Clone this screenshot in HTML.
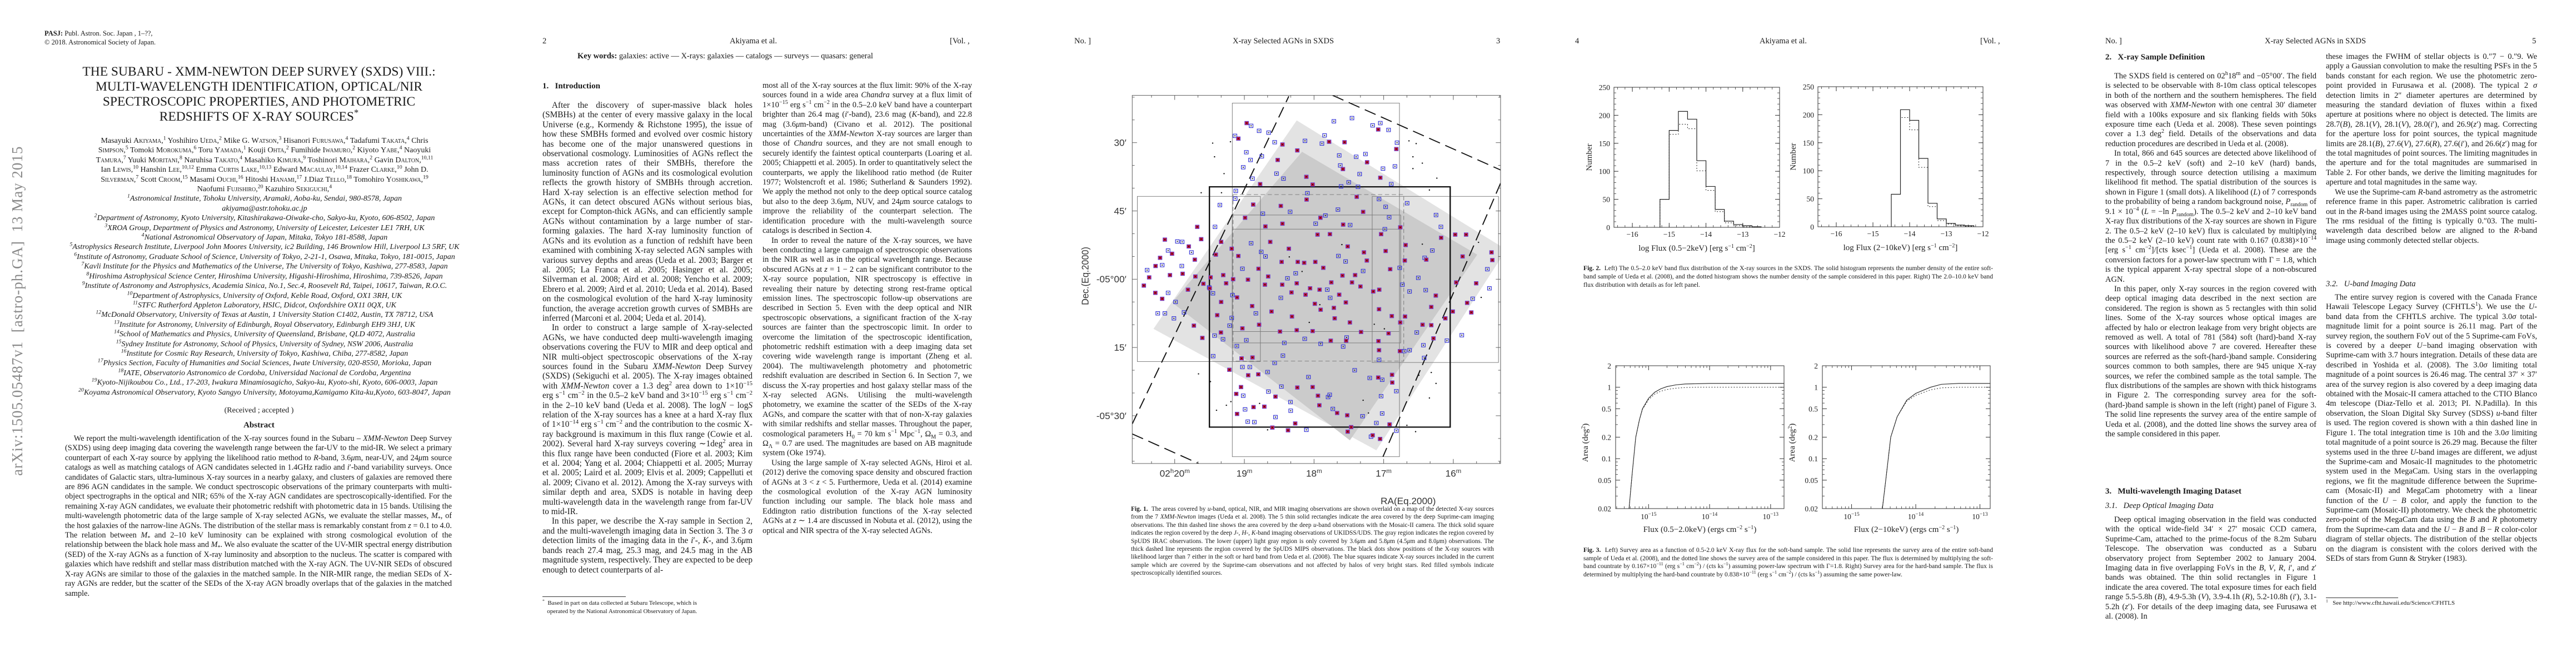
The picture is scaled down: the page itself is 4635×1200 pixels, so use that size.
<!DOCTYPE html>
<html><head><meta charset="utf-8">
<style>
html,body{margin:0;padding:0;background:#fff;}
#page{position:relative;width:4635px;height:1200px;overflow:hidden;background:#fff;color:#1a1a1a;font-family:"Liberation Serif",serif;}
.abs{position:absolute;}
.hdr{position:absolute;top:65px;font-size:14.5px;line-height:18px;white-space:nowrap;}
.col{position:absolute;font-size:14.5px;line-height:17.4px;text-align:justify;hyphens:auto;}
.col p{margin:0;text-indent:1.1em;}
.col p.ni{text-indent:0;}
.sec{font-weight:bold;font-size:15px;}
.sub{font-style:italic;}
.cap{position:absolute;font-size:11.3px;line-height:14.4px;text-align:justify;}
.fn{position:absolute;font-size:11px;line-height:15px;}
.sc{font-variant:small-caps;}
.aff{font-style:italic;}
sup{font-size:70%;line-height:0;}
sub{font-size:70%;line-height:0;}
</style></head>
<body>
<div id="page">

<!-- PAGE 1 -->
<div class="abs" style="left:80px;top:52px;font-size:12.5px;line-height:16px;">
<b>PASJ:</b> Publ. Astron. Soc. Japan , 1–??,<br>© 2018. Astronomical Society of Japan.</div>

<div class="abs" style="left:14px;top:856px;width:612px;height:34px;transform:rotate(-90deg);transform-origin:0 0;font-size:27px;line-height:34px;color:#8a8a8a;white-space:nowrap;letter-spacing:1px;">arXiv:1505.05487v1&nbsp;&nbsp;[astro-ph.GA]&nbsp;&nbsp;13 May 2015</div>

<div class="abs" style="left:60px;top:116px;width:812px;text-align:center;font-size:23.5px;line-height:27px;white-space:nowrap;">
THE SUBARU - XMM-NEWTON DEEP SURVEY (SXDS) VIII.:<br>MULTI-WAVELENGTH IDENTIFICATION, OPTICAL/NIR<br>SPECTROSCOPIC PROPERTIES, AND PHOTOMETRIC<br>REDSHIFTS OF X-RAY SOURCES<sup>*</sup></div>

<div class="abs" style="left:60px;top:245px;width:832px;text-align:center;font-size:14px;line-height:17.4px;white-space:nowrap;">
Masayuki <span class="sc">Akiyama</span>,<sup>1</sup> Yoshihiro <span class="sc">Ueda</span>,<sup>2</sup> Mike G. <span class="sc">Watson</span>,<sup>3</sup> Hisanori <span class="sc">Furusawa</span>,<sup>4</sup> Tadafumi <span class="sc">Takata</span>,<sup>4</sup> Chris<br>
<span class="sc">Simpson</span>,<sup>5</sup> Tomoki <span class="sc">Morokuma</span>,<sup>6</sup> Toru <span class="sc">Yamada</span>,<sup>1</sup> Kouji <span class="sc">Ohta</span>,<sup>2</sup> Fumihide <span class="sc">Iwamuro</span>,<sup>2</sup> Kiyoto <span class="sc">Yabe</span>,<sup>4</sup> Naoyuki<br>
<span class="sc">Tamura</span>,<sup>7</sup> Yuuki <span class="sc">Moritani</span>,<sup>8</sup> Naruhisa <span class="sc">Takato</span>,<sup>4</sup> Masahiko <span class="sc">Kimura</span>,<sup>9</sup> Toshinori <span class="sc">Maihara</span>,<sup>2</sup> Gavin <span class="sc">Dalton</span>,<sup>10,11</sup><br>
Ian <span class="sc">Lewis</span>,<sup>10</sup> Hanshin <span class="sc">Lee</span>,<sup>10,12</sup> Emma <span class="sc">Curtis Lake</span>,<sup>10,13</sup> Edward <span class="sc">Macaulay</span>,<sup>10,14</sup> Frazer <span class="sc">Clarke</span>,<sup>10</sup> John D.<br>
<span class="sc">Silverman</span>,<sup>7</sup> Scott <span class="sc">Croom</span>,<sup>15</sup> Masami <span class="sc">Ouchi</span>,<sup>16</sup> Hitoshi <span class="sc">Hanami</span>,<sup>17</sup> J.Diaz <span class="sc">Tello</span>,<sup>18</sup> Tomohiro <span class="sc">Yoshikawa</span>,<sup>19</sup><br>
Naofumi <span class="sc">Fujishiro</span>,<sup>20</sup> Kazuhiro <span class="sc">Sekiguchi</span>,<sup>4</sup><br>
<span class="aff"><sup>1</sup>Astronomical Institute, Tohoku University, Aramaki, Aoba-ku, Sendai, 980-8578, Japan</span><br>
<span class="aff">akiyama@astr.tohoku.ac.jp</span><br>
<span class="aff"><sup>2</sup>Department of Astronomy, Kyoto University, Kitashirakawa-Oiwake-cho, Sakyo-ku, Kyoto, 606-8502, Japan</span><br>
<span class="aff"><sup>3</sup>XROA Group, Department of Physics and Astronomy, University of Leicester, Leicester LE1 7RH, UK</span><br>
<span class="aff"><sup>4</sup>National Astronomical Observatory of Japan, Mitaka, Tokyo 181-8588, Japan</span><br>
<span class="aff"><sup>5</sup>Astrophysics Research Institute, Liverpool John Moores University, ic2 Building, 146 Brownlow Hill, Liverpool L3 5RF, UK</span><br>
<span class="aff"><sup>6</sup>Institute of Astronomy, Graduate School of Science, University of Tokyo, 2-21-1, Osawa, Mitaka, Tokyo, 181-0015, Japan</span><br>
<span class="aff"><sup>7</sup>Kavli Institute for the Physics and Mathematics of the Universe, The University of Tokyo, Kashiwa, 277-8583, Japan</span><br>
<span class="aff"><sup>8</sup>Hiroshima Astrophysical Science Center, Hiroshima University, Higashi-Hiroshima, Hiroshima, 739-8526, Japan</span><br>
<span class="aff"><sup>9</sup>Institute of Astronomy and Astrophysics, Academia Sinica, No.1, Sec.4, Roosevelt Rd, Taipei, 10617, Taiwan, R.O.C.</span><br>
<span class="aff"><sup>10</sup>Department of Astrophysics, University of Oxford, Keble Road, Oxford, OX1 3RH, UK</span><br>
<span class="aff"><sup>11</sup>STFC Rutherford Appleton Laboratory, HSIC, Didcot, Oxfordshire OX11 0QX, UK</span><br>
<span class="aff"><sup>12</sup>McDonald Observatory, University of Texas at Austin, 1 University Station C1402, Austin, TX 78712, USA</span><br>
<span class="aff"><sup>13</sup>Institute for Astronomy, University of Edinburgh, Royal Observatory, Edinburgh EH9 3HJ, UK</span><br>
<span class="aff"><sup>14</sup>School of Mathematics and Physics, University of Queensland, Brisbane, QLD 4072, Australia</span><br>
<span class="aff"><sup>15</sup>Sydney Institute for Astronomy, School of Physics, University of Sydney, NSW 2006, Australia</span><br>
<span class="aff"><sup>16</sup>Institute for Cosmic Ray Research, University of Tokyo, Kashiwa, Chiba, 277-8582, Japan</span><br>
<span class="aff"><sup>17</sup>Physics Section, Faculty of Humanities and Social Sciences, Iwate University, 020-8550, Morioka, Japan</span><br>
<span class="aff"><sup>18</sup>IATE, Observatorio Astronomico de Cordoba, Universidad Nacional de Cordoba, Argentina</span><br>
<span class="aff"><sup>19</sup>Kyoto-Nijikoubou Co., Ltd., 17-203, Iwakura Minamiosagicho, Sakyo-ku, Kyoto-shi, Kyoto, 606-0003, Japan</span><br>
<span class="aff"><sup>20</sup>Koyama Astronomical Observatory, Kyoto Sangyo University, Motoyama,Kamigamo Kita-ku,Kyoto, 603-8047, Japan</span>
</div>

<div class="abs" style="left:60px;top:730px;width:812px;text-align:center;font-size:14px;line-height:18px;">(Received ; accepted )</div>
<div class="abs" style="left:60px;top:756px;width:812px;text-align:center;font-size:15px;line-height:18px;font-weight:bold;">Abstract</div>
<div class="col" style="left:117px;top:781px;width:696px;font-size:14.3px;">
<p>We report the multi-wavelength identification of the X-ray sources found in the Subaru – <i>XMM-Newton</i> Deep Survey (SXDS) using deep imaging data covering the wavelength range between the far-UV to the mid-IR. We select a primary counterpart of each X-ray source by applying the likelihood ratio method to <i>R</i>-band, 3.6<i>μ</i>m, near-UV, and 24<i>μ</i>m source catalogs as well as matching catalogs of AGN candidates selected in 1.4GHz radio and <i>i</i>′-band variability surveys. Once candidates of Galactic stars, ultra-luminous X-ray sources in a nearby galaxy, and clusters of galaxies are removed there are 896 AGN candidates in the sample. We conduct spectroscopic observations of the primary counterparts with multi-object spectrographs in the optical and NIR; 65% of the X-ray AGN candidates are spectroscopically-identified. For the remaining X-ray AGN candidates, we evaluate their photometric redshift with photometric data in 15 bands. Utilising the multi-wavelength photometric data of the large sample of X-ray selected AGNs, we evaluate the stellar masses, <i>M</i><sub>*</sub>, of the host galaxies of the narrow-line AGNs. The distribution of the stellar mass is remarkably constant from <i>z</i> = 0.1 to 4.0. The relation between <i>M</i><sub>*</sub> and 2–10 keV luminosity can be explained with strong cosmological evolution of the relationship between the black hole mass and <i>M</i><sub>*</sub>. We also evaluate the scatter of the UV-MIR spectral energy distribution (SED) of the X-ray AGNs as a function of X-ray luminosity and absorption to the nucleus. The scatter is compared with galaxies which have redshift and stellar mass distribution matched with the X-ray AGN. The UV-NIR SEDs of obscured X-ray AGNs are similar to those of the galaxies in the matched sample. In the NIR-MIR range, the median SEDs of X-ray AGNs are redder, but the scatter of the SEDs of the X-ray AGN broadly overlaps that of the galaxies in the matched sample.</p></div>

<!-- PAGE 2 -->
<div class="hdr" style="left:976px;">2</div>
<div class="hdr" style="left:1313px;">Akiyama et al.</div>
<div class="hdr" style="left:1709px;">[Vol. ,</div>
<div class="abs" style="left:1039px;top:92px;font-size:14.5px;line-height:18px;white-space:nowrap;"><b>Key words:</b> galaxies: active — X-rays: galaxies — catalogs — surveys — quasars: general</div>
<div class="abs sec" style="left:976px;top:146px;line-height:18px;">1.&nbsp;&nbsp;&nbsp;Introduction</div>
<div class="col" style="left:976px;top:181px;width:378px;font-size:15.3px;">
<p>After the discovery of super-massive black holes (SMBHs) at the center of every massive galaxy in the local Universe (e.g., Kormendy &amp; Richstone 1995), the issue of how these SMBHs formed and evolved over cosmic history has become one of the major unanswered questions in observational cosmology. Luminosities of AGNs reflect the mass accretion rates of their SMBHs, therefore the luminosity function of AGNs and its cosmological evolution reflects the growth history of SMBHs through accretion. Hard X-ray selection is an effective selection method for AGNs, it can detect obscured AGNs without serious bias, except for Compton-thick AGNs, and can efficiently sample AGNs without contamination by a large number of star-forming galaxies. The hard X-ray luminosity function of AGNs and its evolution as a function of redshift have been examined with combining X-ray selected AGN samples with various survey depths and areas (Ueda et al. 2003; Barger et al. 2005; La Franca et al. 2005; Hasinger et al. 2005; Silverman et al. 2008; Aird et al. 2008; Yencho et al. 2009; Ebrero et al. 2009; Aird et al. 2010; Ueda et al. 2014). Based on the cosmological evolution of the hard X-ray luminosity function, the average accretion growth curves of SMBHs are inferred (Marconi et al. 2004; Ueda et al. 2014).</p>
<p>In order to construct a large sample of X-ray-selected AGNs, we have conducted deep multi-wavelength imaging observations covering the FUV to MIR and deep optical and NIR multi-object spectroscopic observations of the X-ray sources found in the Subaru <i>XMM-Newton</i> Deep Survey (SXDS) (Sekiguchi et al. 2005). The X-ray images obtained with <i>XMM-Newton</i> cover a 1.3 deg<sup>2</sup> area down to 1×10<sup>−15</sup> erg s<sup>−1</sup> cm<sup>−2</sup> in the 0.5–2 keV band and 3×10<sup>−15</sup> erg s<sup>−1</sup> cm<sup>−2</sup> in the 2–10 keV band (Ueda et al. 2008). The log<i>N</i> − log<i>S</i> relation of the X-ray sources has a knee at a hard X-ray flux of 1×10<sup>−14</sup> erg s<sup>−1</sup> cm<sup>−2</sup> and the contribution to the cosmic X-ray background is maximum in this flux range (Cowie et al. 2002). Several hard X-ray surveys covering ∼1deg<sup>2</sup> area in this flux range have been conducted (Fiore et al. 2003; Kim et al. 2004; Yang et al. 2004; Chiappetti et al. 2005; Murray et al. 2005; Laird et al. 2009; Elvis et al. 2009; Cappelluti et al. 2009; Civano et al. 2012). Among the X-ray surveys with similar depth and area, SXDS is notable in having deep multi-wavelength data in the wavelength range from far-UV to mid-IR.</p>
<p>In this paper, we describe the X-ray sample in Section 2, and the multi-wavelength imaging data in Section 3. The 3 <i>σ</i> detection limits of the imaging data in the <i>i</i>′-, <i>K</i>-, and 3.6<i>μ</i>m bands reach 27.4 mag, 25.3 mag, and 24.5 mag in the AB magnitude system, respectively. They are expected to be deep enough to detect counterparts of al-</p></div>
<div class="abs" style="left:976px;top:1073px;width:150px;border-top:1px solid #333;"></div>
<div class="fn" style="left:976px;top:1078px;width:378px;"><sup>*</sup>&nbsp; Based in part on data collected at Subaru Telescope, which is<br>&nbsp;&nbsp;&nbsp;operated by the National Astronomical Observatory of Japan.</div>
<div class="col" style="left:1372px;top:146px;width:377px;">
<p class="ni">most all of the X-ray sources at the flux limit: 90% of the X-ray sources found in a wide area <i>Chandra</i> survey at a flux limit of 1×10<sup>−15</sup> erg s<sup>−1</sup> cm<sup>−2</sup> in the 0.5–2.0 keV band have a counterpart brighter than 26.4 mag (<i>i</i>′-band), 23.6 mag (<i>K</i>-band), and 22.8 mag (3.6<i>μ</i>m-band) (Civano et al. 2012). The positional uncertainties of the <i>XMM-Newton</i> X-ray sources are larger than those of <i>Chandra</i> sources, and they are not small enough to securely identify the faintest optical counterparts (Loaring et al. 2005; Chiappetti et al. 2005). In order to quantitatively select the counterparts, we apply the likelihood ratio method (de Ruiter 1977; Wolstencroft et al. 1986; Sutherland &amp; Saunders 1992). We apply the method not only to the deep optical source catalog but also to the deep 3.6<i>μ</i>m, NUV, and 24<i>μ</i>m source catalogs to improve the reliability of the counterpart selection. The identification procedure with the multi-wavelength source catalogs is described in Section 4.</p>
<p>In order to reveal the nature of the X-ray sources, we have been conducting a large campaign of spectroscopic observations in the NIR as well as in the optical wavelength range. Because obscured AGNs at <i>z</i> = 1 − 2 can be significant contributor to the X-ray source population, NIR spectroscopy is effective in revealing their nature by detecting strong rest-frame optical emission lines. The spectroscopic follow-up observations are described in Section 5. Even with the deep optical and NIR spectroscopic observations, a significant fraction of the X-ray sources are fainter than the spectroscopic limit. In order to overcome the limitation of the spectroscopic identification, photometric redshift estimation with a deep imaging data set covering wide wavelength range is important (Zheng et al. 2004). The multiwavelength photometry and photometric redshift evaluation are described in Section 6. In Section 7, we discuss the X-ray properties and host galaxy stellar mass of the X-ray selected AGNs. Utilising the multi-wavelength photometry, we examine the scatter of the SEDs of the X-ray AGNs, and compare the scatter with that of non-X-ray galaxies with similar redshifts and stellar masses. Throughout the paper, cosmological parameters H<sub>0</sub> = 70 km s<sup>−1</sup> Mpc<sup>−1</sup>, Ω<sub>M</sub> = 0.3, and Ω<sub>Λ</sub> = 0.7 are used. The magnitudes are based on AB magnitude system (Oke 1974).</p>
<p>Using the large sample of X-ray selected AGNs, Hiroi et al. (2012) derive the comoving space density and obscured fraction of AGNs at 3 &lt; <i>z</i> &lt; 5. Furthermore, Ueda et al. (2014) examine the cosmological evolution of the X-ray AGN luminosity function including our sample. The black hole mass and Eddington ratio distribution functions of the X-ray selected AGNs at <i>z</i> ∼ 1.4 are discussed in Nobuta et al. (2012), using the optical and NIR spectra of the X-ray selected AGNs.</p></div>

<!-- PAGE 3 -->
<div class="hdr" style="left:1933px;">No. ]</div>
<div class="hdr" style="left:2218px;">X-ray Selected AGNs in SXDS</div>
<div class="hdr" style="left:2692px;">3</div>
<div class="cap" style="left:2035px;top:909px;width:653px;">
<b>Fig. 1.</b>&nbsp; The areas covered by <i>u</i>-band, optical, NIR, and MIR imaging observations are shown overlaid on a map of the detected X-ray sources from the 7 <i>XMM-Newton</i> images (Ueda et al. 2008). The 5 thin solid rectangles indicate the area covered by the deep Suprime-cam imaging observations. The thin dashed line shows the area covered by the deep <i>u</i>-band observations with the Mosaic-II camera. The thick solid square indicates the region covered by the deep <i>J</i>-, <i>H</i>-, <i>K</i>-band imaging observations of UKIDSS/UDS. The gray region indicates the region covered by SpUDS IRAC observations. The lower (upper) light gray region is only covered by 3.6<i>μ</i>m and 5.8<i>μ</i>m (4.5<i>μ</i>m and 8.0<i>μ</i>m) observations. The thick dashed line represents the region covered by the SpUDS MIPS observations. The black dots show positions of the X-ray sources with likelihood larger than 7 either in the soft or hard band from Ueda et al. (2008). The blue squares indicate X-ray sources included in the current sample which are covered by the Suprime-cam observations and not affected by halos of very bright stars. Red filled symbols indicate spectroscopically identified sources.</div>

<!-- PAGE 4 -->
<div class="hdr" style="left:2834px;">4</div>
<div class="hdr" style="left:3166px;">Akiyama et al.</div>
<div class="hdr" style="left:3563px;">[Vol. ,</div>
<div class="cap" style="left:2849px;top:476px;width:737px;font-size:11.6px;line-height:14.8px;">
<b>Fig. 2.</b>&nbsp; Left) The 0.5–2.0 keV band flux distribution of the X-ray sources in the SXDS. The solid histogram represents the number density of the entire soft-band sample of Ueda et al. (2008), and the dotted histogram shows the number density of the sample considered in this paper. Right) The 2.0–10.0 keV band flux distribution with details as for left panel.</div>
<div class="cap" style="left:2849px;top:983px;width:737px;font-size:11.6px;line-height:14.6px;">
<b>Fig. 3.</b>&nbsp; Left) Survey area as a function of 0.5-2.0 keV X-ray flux for the soft-band sample. The solid line represents the survey area of the entire soft-band sample of Ueda et al. (2008), and the dotted line shows the survey area of the sample considered in this paper. The flux is determined by multiplying the soft-band countrate by 0.167×10<sup>−11</sup> (erg s<sup>−1</sup> cm<sup>−2</sup>) / (cts ks<sup>−1</sup>) assuming power-law spectrum with Γ=1.8. Right) Survey area for the hard-band sample. The flux is determined by multiplying the hard-band countrate by 0.838×10<sup>−11</sup> (erg s<sup>−1</sup> cm<sup>−2</sup>) / (cts ks<sup>−1</sup>) assuming the same power-law.</div>

<!-- PAGE 5 -->
<div class="hdr" style="left:3788px;">No. ]</div>
<div class="hdr" style="left:4075px;">X-ray Selected AGNs in SXDS</div>
<div class="hdr" style="left:4556px;">5</div>
<div class="abs sec" style="left:3788px;top:94px;line-height:18px;">2.&nbsp;&nbsp;&nbsp;X-ray Sample Definition</div>
<div class="col" style="left:3788px;top:129px;width:380px;">
<p>The SXDS field is centered on 02<sup>h</sup>18<sup>m</sup> and −05°00′. The field is selected to be observable with 8-10m class optical telescopes in both of the northern and the southern hemispheres. The field was observed with <i>XMM-Newton</i> with one central 30′ diameter field with a 100ks exposure and six flanking fields with 50ks exposure time each (Ueda et al. 2008). These seven pointings cover a 1.3 deg<sup>2</sup> field. Details of the observations and data reduction procedures are described in Ueda et al. (2008).</p>
<p>In total, 866 and 645 sources are detected above likelihood of 7 in the 0.5–2 keV (soft) and 2–10 keV (hard) bands, respectively, through source detection utilising a maximum likelihood fit method. The spatial distribution of the sources is shown in Figure 1 (small dots). A likelihood (<i>L</i>) of 7 corresponds to the probability of being a random background noise, <i>P</i><sub>random</sub> of 9.1 × 10<sup>−4</sup> (<i>L</i> = −ln <i>P</i><sub>random</sub>). The 0.5–2 keV and 2–10 keV band X-ray flux distributions of the X-ray sources are shown in Figure 2. The 0.5–2 keV (2–10 keV) flux is calculated by multiplying the 0.5–2 keV (2–10 keV) count rate with 0.167 (0.838)×10<sup>−14</sup> [erg s<sup>−1</sup> cm<sup>−2</sup>]/[cts ksec<sup>−1</sup>] (Ueda et al. 2008). These are the conversion factors for a power-law spectrum with Γ = 1.8, which is the typical apparent X-ray spectral slope of a non-obscured AGN.</p>
<p>In this paper, only X-ray sources in the region covered with deep optical imaging data described in the next section are considered. The region is shown as 5 rectangles with thin solid lines. Some of the X-ray sources whose optical images are affected by halo or electron leakage from very bright objects are removed as well. A total of 781 (584) soft (hard)-band X-ray sources with likelihood above 7 are covered. Hereafter these sources are referred as the soft-(hard-)band sample. Considering sources common to both samples, there are 945 unique X-ray sources, we refer the combined sample as the total sample. The flux distributions of the samples are shown with thick histograms in Figure 2. The corresponding survey area for the soft-(hard-)band sample is shown in the left (right) panel of Figure 3. The solid line represents the survey area of the entire sample of Ueda et al. (2008), and the dotted line shows the survey area of the sample considered in this paper.</p></div>
<div class="abs sec" style="left:3788px;top:875px;line-height:18px;">3.&nbsp;&nbsp;&nbsp;Multi-wavelength Imaging Dataset</div>
<div class="abs sub" style="left:3788px;top:901px;font-size:14.5px;line-height:18px;">3.1.&nbsp;&nbsp;&nbsp;Deep Optical Imaging Data</div>
<div class="col" style="left:3788px;top:927px;width:380px;">
<p>Deep optical imaging observation in the field was conducted with the optical wide-field 34′ × 27′ mosaic CCD camera, Suprime-Cam, attached to the prime-focus of the 8.2m Subaru Telescope. The observation was conducted as a Subaru observatory project from September 2002 to January 2004. Imaging data in five overlapping FoVs in the <i>B</i>, <i>V</i>, <i>R</i>, <i>i</i>′, and <i>z</i>′ bands was obtained. The thin solid rectangles in Figure 1 indicate the area covered. The total exposure times for each field range 5.5-5.8h (<i>B</i>), 4.9-5.3h (<i>V</i>), 3.9-4.1h (<i>R</i>), 5.2-10.8h (<i>i</i>′), 3.1-5.2h (<i>z</i>′). For details of the deep imaging data, see Furusawa et al. (2008). In</p></div>
<div class="col" style="left:4185px;top:94px;width:380px;">
<p class="ni">these images the FWHM of stellar objects is 0.″7 − 0.″9. We apply a Gaussian convolution to make the resulting PSFs in the 5 bands constant for each region. We use the photometric zero-point provided in Furusawa et al. (2008). The typical 2 <i>σ</i> detection limits in 2″ diameter apertures are determined by measuring the standard deviation of fluxes within a fixed aperture at positions where no object is detected. The limits are 28.7(<i>B</i>), 28.1(<i>V</i>), 28.1(<i>V</i>), 28.0(<i>i</i>′), and 26.9(<i>z</i>′) mag. Correcting for the aperture loss for point sources, the typical magnitude limits are 28.1(<i>B</i>), 27.6(<i>V</i>), 27.6(<i>R</i>), 27.6(<i>i</i>′), and 26.6(<i>z</i>′) mag for the total magnitudes of point sources. The limiting magnitudes in the aperture and for the total magnitudes are summarised in Table 2. For other bands, we derive the limiting magnitudes for aperture and total magnitudes in the same way.</p>
<p>We use the Suprime-cam <i>R</i>-band astrometry as the astrometric reference frame in this paper. Astrometric calibration is carried out in the <i>R</i>-band images using the 2MASS point source catalog. The rms residual of the fitting is typically 0.″03. The multi-wavelength data described below are aligned to the <i>R</i>-band image using commonly detected stellar objects.</p></div>
<div class="abs sub" style="left:4185px;top:502px;font-size:14.5px;line-height:18px;">3.2.&nbsp;&nbsp;&nbsp;U-band Imaging Data</div>
<div class="col" style="left:4185px;top:527px;width:380px;">
<p>The entire survey region is covered with the Canada France Hawaii Telescope Legacy Survey (CFHTLS<sup>1</sup>). We use the <i>U</i>-band data from the CFHTLS archive. The typical 3.0<i>σ</i> total-magnitude limit for a point source is 26.11 mag. Part of the survey region, the southern FoV out of the 5 Suprime-cam FoVs, is covered by a deeper <i>U</i>−band imaging observation with Suprime-cam with 3.7 hours integration. Details of these data are described in Yoshida et al. (2008). The 3.0<i>σ</i> limiting total magnitude of a point sources is 26.46 mag. The central 37′ × 37′ area of the survey region is also covered by a deep imaging data obtained with the Mosaic-II camera attached to the CTIO Blanco 4m telescope (Diaz-Tello et al. 2013; PI. N.Padilla). In this observation, the Sloan Digital Sky Survey (SDSS) <i>u</i>-band filter is used. The region covered is shown with a thin dashed line in Figure 1. The total integration time is 10h and the 3.0<i>σ</i> limiting total magnitude of a point source is 26.29 mag. Because the filter systems used in the three <i>U</i>-band images are different, we adjust the Suprime-cam and Mosaic-II magnitudes to the photometric system used in the MegaCam. Using stars in the overlapping regions, we fit the magnitude difference between the Suprime-cam (Mosaic-II) and MegaCam photometry with a linear function of the <i>U</i> − <i>B</i> color, and apply the function to the Suprime-cam (Mosaic-II) photometry. We check the photometric zero-point of the MegaCam data using the <i>B</i> and <i>R</i> photometry from the Suprime-cam data and the <i>U</i> − <i>B</i> and <i>B</i> − <i>R</i> color-color diagram of stellar objects. The distribution of the stellar objects on the diagram is consistent with the colors derived with the SEDs of stars from Gunn &amp; Stryker (1983).</p></div>
<div class="abs" style="left:4185px;top:1075px;width:130px;border-top:1px solid #333;"></div>
<div class="fn" style="left:4185px;top:1078px;"><sup>1</sup>&nbsp;&nbsp; See http://www.cfht.hawaii.edu/Science/CFHTLS</div>

<svg id="figs" class="abs" style="left:0;top:0;" width="4635" height="1200" xmlns="http://www.w3.org/2000/svg"></svg>
</div>

<script>
// ===== Figure 2 data (histograms, bin width 0.25 in log flux) =====
const softBinStart = -15.25;
const softSolid  = [50,173,207,193,119,73,32,11,5,3,1];
const softDotted = [50,166,184,176,101,66,28,8,3,1,0];
const hardBinStart = -14.5;
const hardSolid  = [58,209,190,122,42,14,6,3,2];
const hardDotted = [58,195,173,106,36,11,5,2,1];
const histYTicks = [0,50,100,150,200,250];
const histXTicks = [-16,-15,-14,-13,-12];

// ===== Figure 3 data (survey area curves) =====
const softLogFlux   = [-15.32,-15.27,-15.21,-15.15,-15.1,-15.0,-14.9,-14.8,-14.7,-14.55,-14.4,-14.2,-14.0,-13.5,-12.78];
const softAreaSolid = [0.02,0.06,0.2,0.35,0.5,0.7,0.85,0.95,1.02,1.08,1.11,1.12,1.13,1.13,1.13];
const softAreaDot   = [0.02,0.06,0.2,0.35,0.49,0.67,0.8,0.88,0.93,0.97,0.99,1.0,1.0,1.0,1.0];
const hardLogFlux   = [-14.52,-14.46,-14.39,-14.29,-14.14,-14.0,-13.77,-13.6,-13.33,-12.84];
const hardAreaSolid = [0.02,0.057,0.2,0.386,0.66,0.82,1.0,1.1,1.13,1.13];
const hardAreaDot   = [0.02,0.057,0.2,0.386,0.64,0.77,0.92,0.98,1.0,1.0];
const areaYTicks = [0.02,0.05,0.1,0.2,0.5,1,2];
const areaYLabels = ["0.02","0.05","0.1","0.2","0.5","1","2"];
const areaXTicks = [-15,-14,-13];

// ===== Figure 1 data: [RA seconds east of 02h16m, Dec arcmin south of -05°00'] =====
const raTicksSec = [0,60,120,180,240];
const raTickLabels = ["16","17","18","19","20"];
const decTicksArcmin = [-30,-15,0,15,30];
const decTickLabels = ["30′","45′","-05°00′","15′","-05°30′"];
const specRA = [178,185.2,147.2,134.4,107,93.7,64.7,49.1,74.3,62.9,95.1,126.6,151.3,166.4,121.2,83.2,126.4,148.6,172.4,179.4,161.9,147.2,114.5,94.9,77.7,62.2,45.7,220.6,248.5,227.9,217.2,242.3,256.5,252.6,262,266.6,256.7,250.8,244.1,233.2,228.6,222.7,222.2,215.3,204.6,200,190.9,185.2,167.8,157.7,141.7,134,117,106.3,91,77,74.5,58.3,54.4,41.8,41.1,23.3,10.5,-1.6,-11,-8,-19.7,-32.9,-33.6,-2.5,-11.9,-15.5,0.5,6.9,15.1,19,19,26.5,17.1,41.6,45.7,63.8,64,53,64.5,55.8,64,46,52.8,52.6,64.7,54.9,63.1,69.5,88,91,91.4,100.1,115.4,116.6,121.2,134.4,136.2,142.4,153.2,155.9,162.8,172.1,186.3,187,182.9,176.7,168,182.4,173,192.9,181.7,167.3,173.3,186.3,200,203.4,223.5,216.2,200.2,149.3,134.9,121.2,105.6,92.3,79.5,89.1,102.2,92.6,102.9,114.3,119.3,127.3,139.4,139,156.6,159.5,147.4,134.9,123.4,115.2,105.1,95.5,84.6,80,69,87.3,98.3,112,128.5,118.9,147.9,162.3,176.9,189.7,198.2,209.1,209.8,195.7];
const specDec = [-34.3,-30.9,-29.6,-28.3,-30.2,-30.1,-32.9,-28.6,-25.7,-22.3,-24.2,-22.5,-26.2,-20.9,-20.8,-18.1,-17.5,-16.1,-16.4,-13.5,-11.6,-12.2,-13.5,-12,-14.8,-9.9,-11.4,-11.5,-8.7,-7.2,-8.8,-5.6,-2.9,-4.7,-0.4,1.4,3,4.3,-0.9,-1.2,2.3,-4.3,-0.6,1,-5.4,-8.2,-6.7,-5.1,-2.3,-8.2,-6.7,-3.8,-9.8,-9.9,-7.2,-5.9,-4.1,-6.2,-2.2,-4.1,-7.5,-4.3,-9.1,-9.8,-9.8,-5,0.9,-5.9,-4.2,0.7,5.2,7.3,7.1,8.6,3.6,6.1,10.1,10,13,8.2,9.5,2.3,6.6,8.1,13.6,11.9,15.6,15.8,21,22.7,21.6,31.9,35.1,34.3,32.5,33.5,29.9,29.4,27.7,25.6,23.7,23.8,31.7,33.2,25.8,32.6,28,28.1,29.6,25.2,23.7,21.1,20.9,17.4,17.2,19.9,10.8,10,5.9,4,5,7.9,10.2,12.9,11.7,11.5,11.2,11.4,13.5,13.5,11.6,9.5,8.6,5.1,6.3,6.7,5.4,3.4,2.9,8.2,7.1,-0.6,1.2,0.9,2,2.3,0.7,-0.8,-0.9,1.6,2.7,0.7,3.4,-2.5,-3.6,-3.8,-3.8,1.2,0.1,0,-0.9,-0.4,2,0.9];
const sampRA = [102.9,87.3,174.2,167.3,159.1,188.1,153.9,127.8,110.9,62.9,69.5,55.8,48.5,75.7,83.7,98.3,113.2,178.3,174.7,165,181,152.3,173,146.3,97.4,80.7,60.6,50.3,53.5,90.1,96.7,82.1,125.7,187.4,201.1,187.9,164.1,140.6,110.2,99.4,64,58.3,55.3,59,39.8,88.9,118.6,205.3,237.7,233.6,245.7,225.6,263.8,250.8,233.9,245.7,239.3,254.6,248.5,232,240.7,210.3,207.1,206.9,205.7,198.4,190.2,181.7,174.2,165.5,161.8,148.6,142.9,135.8,108.6,106.1,99,92.8,77.7,46.2,43.9,37.7,30.2,23.8,24.7,18.1,10.7,14.9,-29.3,-31.1,-16.7,-7.3,5.5,25.8,25.1,31.5,37.7,42.3,64,72,61.3,49.1,62.2,61.3,66.3,49.1,70.9,78.2,85,94.9,91.9,114.3,128,145.6,146.8,153.9,160,159.3,148.1,124.8,106.5,103.8,107.9,140.3,140.1,153.2,179.4,181,177.1,171.4,126.6,181.7,175.3,178.3,170.1,190.9,192.7,186.5];
const sampDec = [-34.7,-35.4,-33.7,-32.6,-32.2,-31.5,-30.1,-30.4,-31.6,-34.3,-33.8,-32.8,-30,-27.5,-26.9,-27.2,-29.8,-27.9,-26.2,-27,-24.6,-23.2,-22.1,-22.1,-25,-23.1,-24.3,-24.8,-20.9,-21.3,-20.4,-20.3,-18.9,-19.4,-16.3,-17.7,-14.4,-14.8,-14,-15.3,-17.6,-15.9,-13.6,-11,-16.7,-11.9,-12.2,-11.5,-8.3,-8.2,-6.3,-5.9,-2,-3.1,-2.9,3,5,7.5,7.5,7.3,8.6,1.8,3.1,16.9,12.4,13.2,3.5,-2.3,-7.9,-6,-5,4.1,-0.2,-1.3,2.3,4.1,-5.1,-3.9,-1.8,-2.5,1.2,2.7,-0.3,2.4,-4.7,-6.3,-11.5,-14.1,-2.2,2,4.3,12.3,13.5,14.5,17.3,11.7,15.6,15.8,17.7,21.7,22.1,24.6,25.7,29.5,31.6,33.3,34.6,30.1,20,14.8,12.8,14.2,13.1,14,16.8,18.4,20.4,24.7,23.6,21.5,25.4,28.5,25.9,27,28.9,30.3,28.6,25.6,31.3,31.4,33.1,19.3,19.3,13.4,7.5,8.5,10.2,14.7];
const dotRA = [207.3,205.7,192,197.5,217.2,199.7,38.2,32,34.8,26.7,34.8,14.2,20.6,26.7,-21.7,-24,29.7,19,14.9,20.6,32.5,40,191.6,204,195.5,209.2,219.5,160,166.9,124.1,130.3,115,96,141.3,59.4,68.1,73.1,77.7];
const dotDec = [-29.9,-26.9,-30.2,-23.2,-19,-19,-30.4,-29.8,-26.9,-25.5,-24.3,-22.2,-19.6,-7.7,-8.1,4,21.1,20.5,22.9,26.1,33.5,32.1,26.9,28.8,27.7,22.5,20.8,33.1,27.3,9.5,-1.7,5.6,-7.6,-4.9,10.9,9.9,29.4,26.6];
const suprimeFields = [[190.4,46.4,-38.7,39],[272.2,166.2,-18.2,18.1],[69.9,-38.9,-18.2,18.3],[190.4,45.3,-14.1,14],[190.4,46.4,-11,11.5]];
const ukidssField = [210.1,2.7,-20.3,32.5];
const mosaicField = [189.7,42.7,-18.6,18];
const iracLightRA = [258.3,134.9,-45.7,66.3];
const iracLightDec = [10.9,-34.9,-6.5,37.6];
const iracDarkRA = [242.3,130.3,-20.6,89.1];
const iracDarkDec = [5.1,-28,-5.4,35.4];
const mipsLinesRA = [[276.6,141.7],[104,-40.7],[-40.7,60.6],[276.6,219.4]];
const mipsLinesDec = [[31.8,-40.2],[-40.4,-24],[-21.1,39],[34,40.5]];
const frameRA = [276.6,-40.7];
const frameDec = [-40.4,40.5];

const NS = "http://www.w3.org/2000/svg";
const svg = document.getElementById('figs');
function mk(tag, attrs, parent){ const e=document.createElementNS(NS,tag); for(const k in attrs) e.setAttribute(k,attrs[k]); (parent||svg).appendChild(e); return e; }
function txt(s, attrs, parent){ const e=mk('text',attrs,parent); e.textContent=s; return e; }

function histPanel(name, x0, x1, y0, y1, binStart, solid, dotted, xlabelMain){
  const g = mk('g',{});
  
  
  const X = v => x0 + (v - (-16.5)) / (4.5) * (x1 - x0);
  const Y = v => y1 - v / 250 * (y1 - y0);
  for(let v=-16.4; v<=-12.05; v+=0.2){ const xx=X(v); mk('line',{x1:xx,y1:y1,x2:xx,y2:y1-4,stroke:'#333','stroke-width':0.8},g); mk('line',{x1:xx,y1:y0,x2:xx,y2:y0+4,stroke:'#333','stroke-width':0.8},g); }
  for(let v=10; v<250; v+=10){ const yy=Y(v); mk('line',{x1:x0,y1:yy,x2:x0+4,y2:yy,stroke:'#333','stroke-width':0.8},g); mk('line',{x1:x1,y1:yy,x2:x1-4,y2:yy,stroke:'#333','stroke-width':0.8},g); }
  histXTicks.forEach(v=>{ const xx=X(v); mk('line',{x1:xx,y1:y1,x2:xx,y2:y1-8,stroke:'#333'},g); mk('line',{x1:xx,y1:y0,x2:xx,y2:y0+8,stroke:'#333'},g);
    const t=txt('\u2212'+Math.abs(v),{x:xx,y:y1+17,'font-size':13.5,'text-anchor':'middle','font-family':'Liberation Serif, serif',fill:'#222'},g);
      });
  histYTicks.forEach(v=>{ const yy=Y(v); mk('line',{x1:x0,y1:yy,x2:x0+8,y2:yy,stroke:'#333'},g); mk('line',{x1:x1,y1:yy,x2:x1-8,y2:yy,stroke:'#333'},g);
    const t=txt(String(v),{x:x0-7,y:yy+5,'font-size':13.5,'text-anchor':'end','font-family':'Liberation Serif, serif',fill:'#222'},g);
      });
  mk('rect',{x:x0,y:y0,width:x1-x0,height:y1-y0,fill:'none',stroke:'#333','stroke-width':1},g);
  function stepPath(vals, dashed, nm){
    let d = 'M'+X(binStart)+','+Y(0);
    vals.forEach((v,i)=>{ const a=X(binStart+i*0.25), b=X(binStart+(i+1)*0.25); d+=' L'+a+','+Y(v)+' L'+b+','+Y(v); });
    d+=' L'+X(binStart+vals.length*0.25)+','+Y(0);
    const p=mk('path',{d:d,fill:'none',stroke:'#222','stroke-width':dashed?1:1.2,'stroke-dasharray':dashed?'2,3':'none'},g);
     
  }
  stepPath(solid,false,'histogram-entire-sample');
  stepPath(dotted,true,'histogram-this-sample');
  const yl=txt('Number',{x:0,y:0,'font-size':15,'text-anchor':'middle','font-family':'Liberation Serif, serif',fill:'#222',transform:'translate('+(x0-40)+','+((y0+y1)/2)+') rotate(-90)'},g);
   
  const xl=txt('',{x:(x0+x1)/2,y:y1+42,'font-size':15,'text-anchor':'middle','font-family':'Liberation Serif, serif',fill:'#222'},g);
   
  xl.innerHTML = xlabelMain + ' [erg s<tspan dy="-5" font-size="10">\u22121</tspan><tspan dy="5"> cm</tspan><tspan dy="-5" font-size="10">\u22122</tspan><tspan dy="5">]</tspan>';
}
histPanel('fig2-left-soft-histogram',2904,3202,157,409,softBinStart,softSolid,softDotted,'log Flux (0.5\u22122keV)');
histPanel('fig2-right-hard-histogram',3271,3568,156,408,hardBinStart,hardSolid,hardDotted,'log Flux (2\u221210keV)');

function areaPanel(name, x0, x1, y0, y1, lxMin, lxMax, lf, solid, dotted, xlabel){
  const g = mk('g',{});
  
  
  const X = v => x0 + (v - lxMin)/(lxMax - lxMin)*(x1-x0);
  const Y = a => y1 - (Math.log10(a) - Math.log10(0.02))/2*(y1-y0);
  for(let dec=-16; dec<=-13; dec++){ for(let m=2;m<=9;m++){ const lv=dec+Math.log10(m); if(lv<=lxMin||lv>=lxMax) continue; const xx=X(lv);
    mk('line',{x1:xx,y1:y1,x2:xx,y2:y1-4,stroke:'#333','stroke-width':0.8},g); mk('line',{x1:xx,y1:y0,x2:xx,y2:y0+4,stroke:'#333','stroke-width':0.8},g);} }
  [0.03,0.04,0.06,0.07,0.08,0.09,0.3,0.4,0.6,0.7,0.8,0.9,0.02,0.2].forEach(a=>{ const yy=Y(a); mk('line',{x1:x0,y1:yy,x2:x0+4,y2:yy,stroke:'#333','stroke-width':0.8},g); mk('line',{x1:x1,y1:yy,x2:x1-4,y2:yy,stroke:'#333','stroke-width':0.8},g); });
  areaXTicks.forEach(v=>{ const xx=X(v); mk('line',{x1:xx,y1:y1,x2:xx,y2:y1-8,stroke:'#333'},g); mk('line',{x1:xx,y1:y0,x2:xx,y2:y0+8,stroke:'#333'},g);
    const t=txt('',{x:xx,y:y1+19,'font-size':13.5,'text-anchor':'middle','font-family':'Liberation Serif, serif',fill:'#222'},g);
    t.innerHTML='10<tspan dy="-6" font-size="9.5">\u2212'+Math.abs(v)+'</tspan>';
      });
  areaYTicks.forEach((a,i)=>{ const yy=Y(a); mk('line',{x1:x0,y1:yy,x2:x0+8,y2:yy,stroke:'#333'},g); mk('line',{x1:x1,y1:yy,x2:x1-8,y2:yy,stroke:'#333'},g);
    const t=txt(areaYLabels[i],{x:x0-8,y:yy+5,'font-size':13.5,'text-anchor':'end','font-family':'Liberation Serif, serif',fill:'#222'},g);
      });
  mk('rect',{x:x0,y:y0,width:x1-x0,height:y1-y0,fill:'none',stroke:'#333','stroke-width':1},g);
  function line(vals, dashed, nm){
    const d = lf.map((v,i)=>(i?'L':'M')+X(v)+','+Y(vals[i])).join(' ');
    const p=mk('path',{d:d,fill:'none',stroke:'#222','stroke-width':dashed?1:1.1,'stroke-dasharray':dashed?'2,3':'none'},g);
     
  }
  line(solid,false,'area-curve-entire-sample');
  line(dotted,true,'area-curve-this-sample');
  const yl=txt('',{x:0,y:0,'font-size':15,'text-anchor':'middle','font-family':'Liberation Serif, serif',fill:'#222',transform:'translate('+(x0-50)+','+((y0+y1)/2+10)+') rotate(-90)'},g);
  yl.innerHTML='Area (deg<tspan dy="-5" font-size="10">2</tspan><tspan dy="5">)</tspan>';
   
  const xl=txt('',{x:(x0+x1)/2,y:y1+42,'font-size':15,'text-anchor':'middle','font-family':'Liberation Serif, serif',fill:'#222'},g);
  xl.innerHTML = xlabel + ' (ergs cm<tspan dy="-5" font-size="10">\u22122</tspan><tspan dy="5"> s</tspan><tspan dy="-5" font-size="10">\u22121</tspan><tspan dy="5">)</tspan>';
   
}
areaPanel('fig3-left-soft-area',2907,3210,658,915,-15.54,-12.78,softLogFlux,softAreaSolid,softAreaDot,'Flux (0.5\u22122.0keV)');
areaPanel('fig3-right-hard-area',3279,3581,658,915,-15.455,-12.84,hardLogFlux,hardAreaSolid,hardAreaDot,'Flux (2\u221210keV)');

(function(){
  const outer = mk('g',{transform:'translate(1980,160) scale(0.47742,0.45161)'});
  
  
  const X = s => 1330 - s*4.375;
  const Y = d => 758 + d*18.13;
  const defs = mk('defs',{},outer);
  const cp = mk('clipPath',{id:'f1clip'},defs);
  mk('rect',{x:X(frameRA[0]),y:Y(frameDec[0]),width:X(frameRA[1])-X(frameRA[0]),height:Y(frameDec[1])-Y(frameDec[0])},cp);
  const g = mk('g',{'clip-path':'url(#f1clip)'},outer);
  const poly = (ra,dec,fill,nm)=>{ const p=mk('polygon',{points:ra.map((r,i)=>X(r)+','+Y(dec[i])).join(' '),fill:fill},g);   };
  poly(iracLightRA,iracLightDec,'#e3e3e3','irac-light-region');
  poly(iracDarkRA,iracDarkDec,'#cbcbcb','irac-dark-region');
  const rect=(f,sw,dash,nm)=>{ const r=mk('rect',{x:X(f[0]),y:Y(f[2]),width:X(f[1])-X(f[0]),height:Y(f[3])-Y(f[2]),fill:'none',stroke:sw>3?'#111':'#777','stroke-width':sw,'stroke-dasharray':dash||'none'},g);   };
  suprimeFields.forEach(f=>rect(f,2,null,'suprime-cam-field'));
  rect(mosaicField,2,'16,10','mosaic-u-band-field');
  rect(ukidssField,5,null,'ukidss-field');
  mipsLinesRA.forEach((r,i)=>{ const l=mk('line',{x1:X(r[0]),y1:Y(mipsLinesDec[i][0]),x2:X(r[1]),y2:Y(mipsLinesDec[i][1]),stroke:'#111','stroke-width':4,'stroke-dasharray':'45,22'},g);   });
  dotRA.forEach((r,i)=>{ const c=mk('circle',{cx:X(r),cy:Y(dotDec[i]),r:2.6,fill:'#111'},g);   });
  sampRA.forEach((r,i)=>{ const x=X(r), y=Y(sampDec[i]);
    const q=mk('rect',{x:x-7,y:y-7,width:14,height:14,fill:'none',stroke:'#3a3ad6','stroke-width':2.6},g);  
    mk('rect',{x:x-2,y:y-2,width:4,height:4,fill:'#111'},g); });
  specRA.forEach((r,i)=>{ const x=X(r), y=Y(specDec[i]);
    const q=mk('rect',{x:x-7,y:y-7,width:14,height:14,fill:'#c8102e',stroke:'#6a4ad6','stroke-width':2.4},g);  
    mk('rect',{x:x-2,y:y-2,width:4,height:4,fill:'#111'},g); });
  const fx0=X(frameRA[0]), fx1=X(frameRA[1]), fy0=Y(frameDec[0]), fy1=Y(frameDec[1]);
  mk('rect',{x:fx0,y:fy0,width:fx1-fx0,height:fy1-fy0,fill:'none',stroke:'#555','stroke-width':2},outer);
  for(let s=-40; s<=276; s+=20){ const x=X(s); const big = raTicksSec.indexOf(s)>=0; const L=big?18:9;
    mk('line',{x1:x,y1:fy1,x2:x,y2:fy1-L,stroke:'#555','stroke-width':2},outer); mk('line',{x1:x,y1:fy0,x2:x,y2:fy0+L,stroke:'#555','stroke-width':2},outer); }
  for(let d=-40; d<=40; d+=5){ const y=Y(d); const big = decTicksArcmin.indexOf(d)>=0; const L=big?18:9;
    mk('line',{x1:fx0,y1:y,x2:fx0+L,y2:y,stroke:'#555','stroke-width':2},outer); mk('line',{x1:fx1,y1:y,x2:fx1-L,y2:y,stroke:'#555','stroke-width':2},outer); }
  raTicksSec.forEach((s,i)=>{ const t=txt('',{x:X(s),y:fy1+52,'font-size':36,'text-anchor':'middle','font-family':'Liberation Sans, sans-serif',fill:'#333'},outer);
    t.innerHTML = (i===4?'02<tspan dy="-14" font-size="24">h</tspan><tspan dy="14">20</tspan>':raTickLabels[i])+'<tspan dy="-14" font-size="24">m</tspan>';
      });
  decTicksArcmin.forEach((d,i)=>{ const t=txt(decTickLabels[i],{x:fx0-22,y:Y(d)+13,'font-size':36,'text-anchor':'end','font-family':'Liberation Sans, sans-serif',fill:'#333'},outer);
      });
  const ra=txt('RA(Eq.2000)',{x:1160,y:1654,'font-size':36,'text-anchor':'middle','font-family':'Liberation Sans, sans-serif',fill:'#333'},outer);
   
  const de=txt('Dec.(Eq.2000)',{x:0,y:0,'font-size':36,'text-anchor':'middle','font-family':'Liberation Sans, sans-serif',fill:'#333',transform:'translate(-45,745) rotate(-90)'},outer);
   
})();
</script>
</body></html>
